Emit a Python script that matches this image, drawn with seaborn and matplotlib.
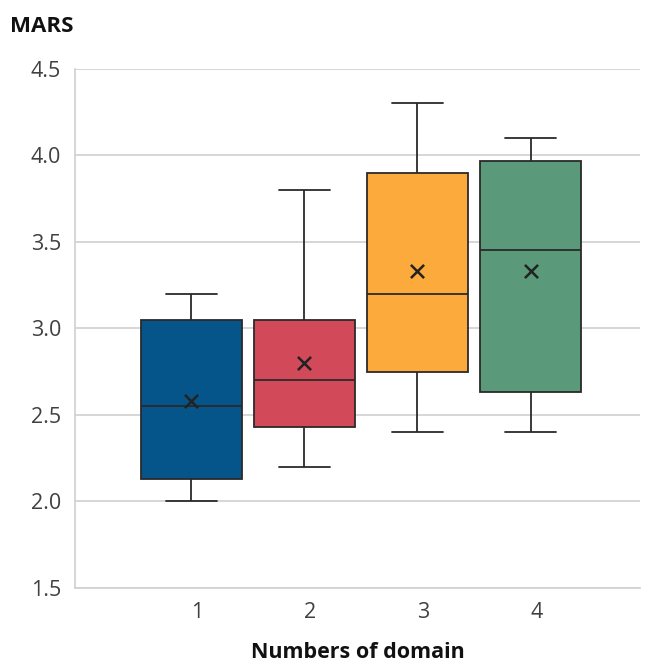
import numpy as np
import pandas as pd
import matplotlib
matplotlib.use("Agg")
import matplotlib.pyplot as plt
import matplotlib.transforms as mtransforms
import seaborn as sns

# Five-number summaries (min, Q1, median, Q3, max)
domains = ["1", "2", "3", "4"]
mins    = [2.00, 2.20, 2.40, 2.40]
q1s     = [2.13, 2.43, 2.75, 2.63]
medians = [2.55, 2.70, 3.20, 3.45]
q3s     = [3.05, 3.05, 3.90, 3.97]
maxs    = [3.20, 3.80, 4.30, 4.10]
means   = [2.58, 2.80, 3.33, 3.33]
colors  = ["#05558A", "#D2495A", "#FCAA3B", "#5A9A7A"]
yticks  = [1.5, 2.0, 2.5, 3.0, 3.5, 4.0, 4.5]

rows = []
for d, a, b, c, e, f in zip(domains, mins, q1s, medians, q3s, maxs):
    for v in (a, b, c, e, f):
        rows.append({"domain": d, "MARS": v})
df = pd.DataFrame(rows)
mean_df = pd.DataFrame({"domain": domains, "MARS": means})

sns.set_theme(style="white")
plt.rcParams["font.family"] = ["Open Sans", "DejaVu Sans"]

fig = plt.figure(figsize=(6.46, 6.68), dpi=100)
ax = fig.add_axes([0.116, 0.12, 0.875, 0.777])

line_kw = dict(color="#2a2a2a", linewidth=1.3)
sns.boxplot(data=df, x="domain", y="MARS", hue="domain", palette=colors,
            order=domains, whis=(0, 100), width=0.9, legend=False,
            linecolor="#2a2a2a", linewidth=1.3, saturation=1,
            capprops=line_kw, whiskerprops=line_kw, medianprops=line_kw,
            boxprops=dict(edgecolor="#2a2a2a", linewidth=1.3), ax=ax, zorder=3)

sns.scatterplot(data=mean_df, x="domain", y="MARS", marker="x", s=90,
                color="#222222", linewidth=1.8, ax=ax, zorder=5)

ax.set_ylim(1.5, 4.5)
ax.set_xlim(-1.03, 3.97)
ax.set_yticks(yticks)
ax.set_yticklabels([f"{t:.1f}" for t in yticks])
ax.yaxis.grid(True, color="#d0d0d0", linewidth=1.2, zorder=0)
ax.set_axisbelow(True)
for s in ["top", "right"]:
    ax.spines[s].set_visible(False)
for s in ["left", "bottom"]:
    ax.spines[s].set_color("#d0d0d0")
    ax.spines[s].set_linewidth(1.2)
ax.tick_params(axis="both", labelsize=15.5, colors="#404040", length=0, pad=10)
ax.set_xticks(range(4))
ax.set_xticklabels(domains)
offset = mtransforms.ScaledTranslation(6 / 100, 0, fig.dpi_scale_trans)
for lbl in ax.get_xticklabels():
    lbl.set_transform(lbl.get_transform() + offset)
ax.set_ylabel("")
ax.set_xlabel("Numbers of domain", fontsize=15.5, fontweight="bold",
              color="#111111", labelpad=14)
fig.text(0.015, 0.96, "MARS", fontsize=16, fontweight="bold",
         color="#111111", ha="left", va="center")

fig.savefig("out.png", dpi=100, facecolor="white")
